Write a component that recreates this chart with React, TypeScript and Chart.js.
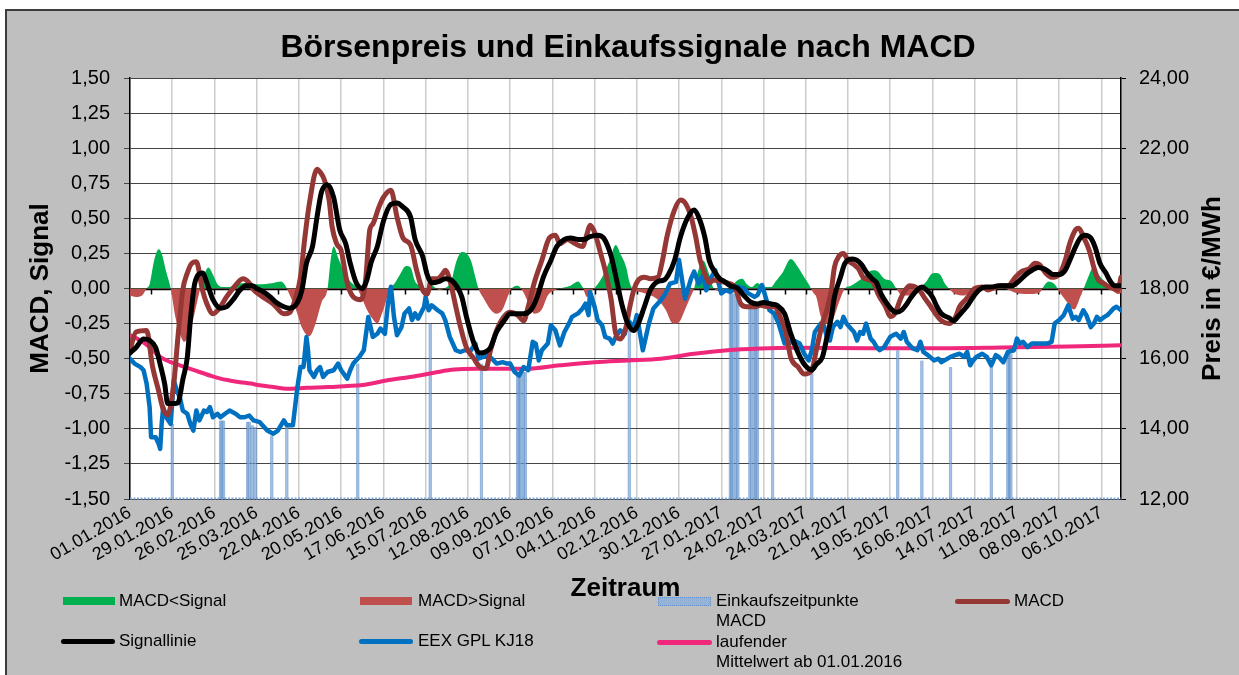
import React, { useEffect, useRef } from 'react';
import { Chart, registerables } from 'chart.js';

Chart.register(...registerables);

// ---------- DATA ----------
const dateLabels = [
  '01.01.2016', '29.01.2016', '26.02.2016', '25.03.2016', '22.04.2016', '20.05.2016',
  '17.06.2016', '15.07.2016', '12.08.2016', '09.09.2016', '07.10.2016', '04.11.2016',
  '02.12.2016', '30.12.2016', '27.01.2017', '24.02.2017', '24.03.2017', '21.04.2017',
  '19.05.2017', '16.06.2017', '14.07.2017', '11.08.2017', '08.09.2017', '06.10.2017',
];
const lastDay = 657; // day index of the last trading date shown (days since 01.01.2016)

const macdDays = [0, 4, 11, 15, 19, 22, 25, 29, 32, 35, 38, 41, 44, 48, 51, 55, 60, 64, 69, 73, 75, 79, 82, 88, 95, 102, 106, 110, 113, 116, 119, 124, 126, 129, 132, 134, 137, 140, 144, 148, 153, 156, 159, 161, 165, 168, 173, 177, 181, 186, 190, 194, 197, 200, 204, 207, 209, 212, 216, 219, 223, 228, 232, 236, 239, 243, 248, 252, 257, 261, 264, 268, 273, 278, 282, 285, 290, 295, 300, 303, 305, 308, 312, 315, 319, 322, 325, 329, 331, 334, 337, 341, 345, 350, 353, 356, 361, 365, 368, 372, 375, 378, 382, 384, 387, 392, 396, 401, 405, 409, 414, 418, 423, 427, 431, 435, 438, 443, 447, 452, 455, 459, 462, 465, 467, 470, 473, 476, 480, 483, 486, 490, 493, 496, 501, 504, 507, 511, 514, 517, 521, 524, 527, 531, 534, 538, 543, 547, 550, 554, 557, 560, 565, 569, 574, 578, 582, 587, 591, 596, 600, 603, 607, 611, 616, 620, 623, 627, 629, 632, 636, 639, 642, 645, 649, 652, 655, 657];
const macdValues = [-0.44, -0.31, -0.30, -0.56, -0.73, -0.86, -0.90, -0.68, -0.32, -0.01, 0.11, 0.18, 0.19, -0.01, -0.11, -0.18, -0.13, -0.06, 0.01, 0.06, 0.07, 0.04, -0.01, -0.06, -0.11, -0.18, -0.17, -0.06, 0.08, 0.37, 0.61, 0.85, 0.83, 0.77, 0.63, 0.44, 0.32, 0.27, 0.04, -0.06, -0.08, 0.04, 0.42, 0.46, 0.58, 0.65, 0.70, 0.51, 0.36, 0.31, 0.13, -0.01, -0.04, 0.07, 0.07, 0.10, 0.13, 0.06, -0.13, -0.27, -0.42, -0.50, -0.56, -0.57, -0.44, -0.30, -0.20, -0.17, -0.19, -0.23, -0.13, 0.04, 0.20, 0.36, 0.38, 0.32, 0.35, 0.32, 0.30, 0.39, 0.45, 0.40, 0.25, 0.13, -0.08, -0.32, -0.36, -0.27, -0.15, -0.01, 0.06, 0.08, 0.07, 0.08, 0.20, 0.37, 0.56, 0.63, 0.61, 0.51, 0.37, 0.20, 0.08, 0.04, 0.06, 0.05, 0.04, 0.01, -0.11, -0.13, -0.13, -0.12, -0.13, -0.13, -0.20, -0.32, -0.49, -0.56, -0.61, -0.58, -0.44, -0.25, -0.15, -0.01, 0.15, 0.23, 0.25, 0.20, 0.17, 0.14, 0.08, 0.06, 0.04, -0.04, -0.13, -0.20, -0.18, -0.07, -0.01, 0.02, 0.01, -0.02, -0.07, -0.13, -0.18, -0.23, -0.25, -0.21, -0.13, -0.08, -0.04, 0.00, 0.01, -0.01, 0.01, 0.02, 0.02, 0.08, 0.12, 0.14, 0.18, 0.17, 0.11, 0.08, 0.10, 0.20, 0.32, 0.42, 0.43, 0.37, 0.27, 0.15, 0.06, 0.04, 0.01, 0.00, -0.01, 0.08];

const signalDays = [0, 4, 9, 13, 17, 20, 23, 25, 30, 32, 35, 38, 40, 43, 48, 51, 55, 60, 64, 69, 73, 77, 81, 84, 88, 93, 97, 102, 106, 111, 114, 117, 121, 124, 127, 131, 135, 139, 143, 146, 150, 154, 157, 160, 164, 168, 173, 177, 181, 186, 189, 194, 197, 200, 205, 209, 213, 217, 220, 223, 228, 232, 236, 239, 243, 248, 252, 257, 261, 266, 270, 274, 279, 283, 288, 292, 297, 301, 305, 310, 314, 319, 323, 326, 330, 334, 337, 341, 345, 350, 354, 357, 361, 365, 370, 374, 377, 381, 384, 387, 391, 394, 398, 403, 407, 412, 416, 420, 425, 429, 434, 438, 443, 447, 452, 455, 459, 462, 465, 467, 471, 474, 479, 482, 485, 488, 492, 495, 498, 502, 505, 508, 512, 515, 518, 522, 525, 528, 532, 535, 538, 543, 546, 549, 553, 556, 559, 563, 567, 571, 576, 580, 585, 589, 594, 598, 602, 606, 609, 612, 616, 620, 623, 627, 630, 633, 637, 640, 643, 647, 650, 653, 657];
const signalValues = [-0.46, -0.42, -0.36, -0.37, -0.42, -0.54, -0.68, -0.82, -0.82, -0.81, -0.65, -0.49, -0.23, 0.04, 0.11, 0.04, -0.08, -0.14, -0.13, -0.07, -0.01, 0.02, 0.02, 0.00, -0.02, -0.06, -0.10, -0.13, -0.14, -0.10, -0.01, 0.18, 0.30, 0.51, 0.69, 0.74, 0.65, 0.42, 0.32, 0.18, 0.04, 0.00, 0.06, 0.19, 0.30, 0.48, 0.60, 0.61, 0.58, 0.51, 0.35, 0.23, 0.10, 0.04, 0.05, 0.07, 0.06, 0.01, -0.06, -0.20, -0.39, -0.46, -0.45, -0.42, -0.31, -0.23, -0.18, -0.18, -0.18, -0.15, -0.06, 0.08, 0.20, 0.30, 0.35, 0.36, 0.35, 0.35, 0.37, 0.38, 0.36, 0.23, 0.04, -0.11, -0.25, -0.30, -0.25, -0.13, -0.01, 0.05, 0.06, 0.10, 0.20, 0.37, 0.51, 0.56, 0.51, 0.37, 0.20, 0.13, 0.07, 0.05, 0.02, 0.00, -0.05, -0.10, -0.11, -0.10, -0.11, -0.12, -0.18, -0.32, -0.46, -0.54, -0.58, -0.54, -0.49, -0.35, -0.20, -0.06, 0.08, 0.18, 0.21, 0.20, 0.17, 0.12, 0.07, 0.04, -0.04, -0.11, -0.15, -0.17, -0.15, -0.11, -0.06, -0.01, 0.01, -0.01, -0.06, -0.13, -0.18, -0.21, -0.23, -0.20, -0.15, -0.11, -0.06, -0.01, 0.01, 0.01, 0.02, 0.02, 0.02, 0.05, 0.10, 0.13, 0.15, 0.14, 0.12, 0.10, 0.10, 0.13, 0.20, 0.30, 0.36, 0.38, 0.36, 0.29, 0.18, 0.11, 0.05, 0.02, 0.02];

const histDays = [0, 4, 8, 11, 13, 16, 19, 21, 24, 27, 30, 33, 36, 40, 44, 47, 50, 52, 55, 58, 62, 66, 70, 78, 85, 95, 100, 103, 106, 110, 114, 119, 123, 127, 131, 133, 135, 138, 142, 146, 150, 153, 157, 161, 164, 167, 170, 172, 175, 179, 183, 186, 189, 192, 196, 200, 205, 210, 213, 216, 220, 223, 226, 229, 231, 235, 239, 243, 247, 250, 253, 257, 261, 264, 268, 273, 277, 282, 292, 297, 300, 303, 306, 310, 314, 318, 322, 325, 329, 331, 333, 336, 340, 350, 355, 360, 364, 368, 372, 374, 376, 380, 384, 387, 392, 398, 403, 406, 409, 412, 416, 420, 425, 428, 433, 438, 443, 447, 450, 453, 455, 458, 462, 466, 470, 474, 478, 485, 490, 493, 496, 500, 503, 505, 508, 512, 518, 522, 525, 528, 531, 534, 537, 540, 543, 547, 553, 558, 562, 570, 580, 587, 595, 603, 606, 609, 613, 616, 620, 626, 630, 633, 636, 638, 642, 646, 649, 652, 655, 657];
const histValues = [-0.05, -0.06, -0.05, 0, 0.03, 0.2, 0.28, 0.25, 0.12, 0, -0.2, -0.32, -0.38, -0.3, -0.12, 0.02, 0.12, 0.15, 0.1, 0.03, 0.01, 0.01, 0.03, 0.04, 0.03, 0.04, 0.05, 0.02, -0.05, -0.15, -0.28, -0.34, -0.25, -0.1, 0, 0.2, 0.3, 0.22, 0.12, 0.05, 0.01, -0.05, -0.15, -0.22, -0.25, -0.18, -0.08, 0, 0.03, 0.1, 0.16, 0.15, 0.05, 0.02, -0.02, 0.02, -0.01, 0.01, 0.05, 0.18, 0.26, 0.25, 0.2, 0.08, 0, -0.08, -0.15, -0.18, -0.15, -0.07, 0, 0.02, -0.03, -0.1, -0.18, -0.15, -0.05, -0.01, 0.02, 0.05, 0.01, -0.06, -0.02, 0.03, 0.1, 0.2, 0.31, 0.25, 0.15, 0.05, 0, -0.02, -0.03, -0.08, -0.15, -0.25, -0.24, -0.15, -0.05, 0, 0.1, 0.2, 0.1, 0, -0.02, 0.01, 0.06, 0.07, 0.03, 0.01, 0.04, 0.01, 0.01, 0.05, 0.12, 0.21, 0.15, 0.08, 0.03, -0.03, -0.06, -0.2, -0.25, -0.22, -0.1, 0, 0.02, 0.07, 0.12, 0.13, 0.12, 0.07, 0.06, 0.05, 0, -0.05, -0.05, 0, 0.02, 0.05, 0.1, 0.11, 0.1, 0.04, 0, -0.04, -0.05, -0.02, 0, 0.01, 0, -0.03, -0.04, -0.03, 0.02, 0.05, 0.03, -0.02, -0.08, -0.15, -0.06, 0.02, 0.1, 0.14, 0.1, 0.05, 0.01, -0.02, -0.04, -0.03];

const priceDays = [0, 3, 7, 9, 11, 13, 14, 17, 19, 20, 21, 22, 24, 27, 29, 31, 33, 35, 38, 40, 42, 44, 46, 49, 51, 53, 55, 58, 60, 63, 66, 70, 73, 76, 79, 82, 86, 91, 95, 98, 102, 104, 108, 111, 113, 115, 117, 118, 119, 122, 124, 126, 128, 131, 135, 138, 140, 144, 146, 148, 152, 155, 158, 161, 164, 166, 169, 171, 173, 175, 177, 180, 182, 185, 187, 189, 191, 195, 196, 198, 200, 204, 207, 209, 212, 216, 219, 222, 226, 229, 231, 234, 237, 240, 243, 247, 250, 252, 255, 258, 261, 264, 267, 269, 271, 273, 277, 279, 282, 285, 288, 291, 293, 297, 300, 302, 304, 305, 308, 310, 313, 315, 318, 320, 322, 325, 328, 330, 332, 334, 336, 340, 342, 344, 347, 352, 355, 358, 362, 364, 366, 368, 372, 374, 377, 380, 382, 385, 388, 392, 395, 398, 403, 407, 410, 414, 416, 419, 422, 424, 427, 430, 434, 437, 440, 444, 447, 450, 452, 454, 458, 460, 462, 464, 466, 469, 471, 473, 475, 477, 480, 482, 484, 486, 488, 491, 493, 495, 497, 500, 502, 504, 506, 508, 511, 513, 515, 517, 519, 522, 524, 526, 529, 533, 536, 538, 540, 544, 547, 550, 553, 555, 557, 559, 561, 565, 568, 571, 574, 576, 579, 582, 586, 588, 590, 592, 595, 598, 601, 605, 608, 611, 613, 616, 619, 622, 625, 627, 629, 632, 634, 637, 639, 641, 643, 646, 648, 650, 652, 654, 657];
const priceValues = [16.00, 15.86, 15.76, 15.67, 15.29, 14.62, 13.76, 13.76, 13.57, 13.43, 14.14, 14.62, 14.33, 14.14, 15.38, 15.10, 14.90, 14.52, 14.43, 14.14, 13.95, 14.52, 14.24, 14.52, 14.48, 14.62, 14.33, 14.43, 14.33, 14.43, 14.52, 14.43, 14.33, 14.33, 14.38, 14.24, 14.19, 13.95, 13.86, 13.95, 14.24, 14.10, 14.10, 15.19, 15.76, 15.76, 16.62, 16.24, 15.67, 15.48, 15.67, 15.76, 15.48, 15.62, 15.67, 15.86, 15.67, 15.43, 15.67, 15.86, 16.05, 16.24, 17.19, 16.62, 16.71, 16.86, 16.71, 17.57, 18.05, 17.19, 16.67, 16.90, 17.29, 17.43, 17.10, 17.29, 17.14, 17.48, 17.76, 17.38, 17.52, 17.38, 17.29, 17.10, 16.62, 16.24, 16.19, 16.24, 16.24, 16.43, 16.00, 16.05, 16.10, 16.00, 15.86, 15.90, 15.86, 15.86, 15.62, 15.52, 15.76, 15.67, 16.48, 16.43, 15.95, 16.24, 16.43, 16.95, 16.81, 16.38, 16.76, 17.00, 17.19, 17.29, 17.43, 17.57, 17.24, 17.90, 17.48, 17.10, 16.95, 16.62, 16.57, 16.43, 16.62, 16.81, 16.71, 17.10, 17.00, 16.90, 17.24, 16.24, 16.62, 17.00, 17.43, 17.67, 17.86, 18.14, 18.19, 18.81, 18.24, 17.71, 18.29, 18.48, 18.14, 18.38, 17.95, 18.29, 18.52, 17.86, 17.95, 17.90, 18.05, 18.00, 17.86, 17.76, 17.81, 18.10, 17.67, 17.38, 17.29, 17.00, 16.43, 16.43, 16.52, 16.43, 16.14, 15.95, 16.24, 16.76, 17.00, 16.95, 16.62, 16.52, 16.90, 17.05, 16.90, 17.19, 17.00, 16.90, 16.76, 16.52, 16.76, 16.71, 17.00, 16.57, 16.48, 16.33, 16.24, 16.33, 16.48, 16.62, 16.67, 16.71, 16.57, 16.76, 16.48, 16.38, 16.29, 16.24, 16.48, 16.19, 16.10, 15.95, 16.00, 15.90, 15.95, 16.05, 16.10, 16.14, 16.05, 16.19, 15.81, 15.95, 16.05, 16.14, 16.05, 15.81, 16.10, 16.05, 15.90, 16.19, 16.24, 16.57, 16.43, 16.48, 16.33, 16.43, 16.43, 16.43, 16.43, 16.48, 17.00, 17.10, 17.24, 17.52, 17.14, 17.19, 17.10, 17.38, 17.24, 16.90, 17.00, 17.19, 17.10, 17.19, 17.24, 17.33, 17.43, 17.48, 17.38];

const meanDays = [0, 7, 13, 20, 27, 33, 40, 46, 53, 60, 66, 73, 80, 86, 95, 104, 117, 131, 144, 153, 161, 170, 181, 192, 204, 215, 230, 263, 285, 308, 330, 352, 374, 396, 418, 440, 490, 534, 578, 622, 657];
const meanValues = [16.67, 16.52, 16.33, 16.05, 15.90, 15.81, 15.71, 15.62, 15.52, 15.43, 15.38, 15.33, 15.29, 15.24, 15.19, 15.14, 15.17, 15.19, 15.22, 15.24, 15.30, 15.38, 15.45, 15.52, 15.62, 15.69, 15.71, 15.71, 15.81, 15.90, 15.95, 16.00, 16.14, 16.24, 16.29, 16.31, 16.30, 16.30, 16.32, 16.35, 16.38];

const buyDays = [28, 60, 61, 62, 78, 79, 81, 83, 94, 104, 151, 199, 233, 257, 258, 259, 261, 262, 331, 398, 399, 400, 402, 403, 411, 412, 414, 415, 416, 426, 452, 509, 525, 544, 571, 582, 583, 584];
const buyPrices = [14.14, 14.24, 14.24, 14.24, 14.2, 14.2, 14.1, 14.05, 13.81, 14.05, 15.86, 17.0, 15.86, 15.62, 15.62, 15.62, 15.62, 15.62, 16.81, 17.86, 17.86, 17.86, 17.86, 17.86, 17.57, 17.57, 17.57, 17.57, 17.57, 17.29, 15.62, 16.24, 15.95, 15.76, 15.76, 16.14, 16.14, 16.14];

// ---------- COMPONENT ----------
const FONT = "'Liberation Sans', Arial, sans-serif";
const RIGHT_TITLE = 'Preis in €/MWh';

const pts = (days: number[], vals: number[]) => days.map((d, i) => ({ x: d, y: vals[i] }));
const fmt = (v: number | string) => Number(v).toFixed(2).replace('.', ',');

export default function App() {
  const ref = useRef<HTMLCanvasElement>(null);

  useEffect(() => {
    Chart.defaults.font.family = FONT;
    Chart.defaults.color = '#000';

    const bgPlugin = {
      id: 'plotBg',
      beforeDraw(chart: any) {
        const { ctx, chartArea } = chart;
        ctx.save();
        ctx.fillStyle = '#ffffff';
        ctx.fillRect(chartArea.left, chartArea.top, chartArea.right - chartArea.left, chartArea.bottom - chartArea.top);
        ctx.restore();
      },
      afterDraw(chart: any) {
        // right axis title, reading bottom-to-top like the reference
        const { ctx, scales } = chart;
        const s = scales.y2;
        ctx.save();
        ctx.translate(1213, (s.top + s.bottom) / 2);
        ctx.rotate(-Math.PI / 2);
        ctx.font = `bold 26px ${FONT}`;
        ctx.fillStyle = '#000';
        ctx.textAlign = 'center';
        ctx.textBaseline = 'middle';
        ctx.fillText(RIGHT_TITLE, 0, 0);
        ctx.restore();
      },
    };
    const zeroAxisPlugin = {
      id: 'zeroAxis',
      beforeDatasetsDraw(chart: any) {
        const { ctx, chartArea, scales } = chart;
        // dotted base line of the purchase-point bars
        ctx.save();
        ctx.strokeStyle = '#7fa9dc';
        ctx.lineWidth = 2;
        ctx.setLineDash([2, 1.5]);
        ctx.beginPath();
        ctx.moveTo(chartArea.left, chartArea.bottom - 0.5);
        ctx.lineTo(chartArea.right, chartArea.bottom - 0.5);
        ctx.stroke();
        ctx.restore();
        // category axis crossing at 0
        const y0 = Math.round(scales.y.getPixelForValue(0)) + 0.5;
        ctx.save();
        ctx.strokeStyle = '#000';
        ctx.lineWidth = 1.5;
        ctx.beginPath();
        ctx.moveTo(chartArea.left, y0);
        ctx.lineTo(chartArea.right, y0);
        for (let d = 0; d <= scales.x.max; d += 14) {
          const px = Math.round(scales.x.getPixelForValue(d)) + 0.5;
          ctx.moveTo(px, y0);
          ctx.lineTo(px, y0 + 5);
        }
        ctx.stroke();
        ctx.restore();
      },
    };

    const hist = pts(histDays, histValues);

    const chart = new Chart(ref.current as HTMLCanvasElement, {
      type: 'line',
      data: {
        datasets: [
          {
            type: 'bar',
            label: 'Einkaufszeitpunkte MACD',
            data: pts(buyDays, buyPrices),
            yAxisID: 'y2',
            backgroundColor: 'rgba(141,180,226,0.6)',
            borderColor: 'rgba(79,129,189,0.55)',
            borderWidth: { left: 1, right: 1, top: 0, bottom: 0 },
            borderSkipped: false,
            barThickness: 3,
            order: 7,
          } as any,
          {
            label: 'MACD<Signal',
            data: hist,
            yAxisID: 'y',
            borderWidth: 0,
            pointRadius: 0,
            cubicInterpolationMode: 'monotone',
            fill: { target: 'origin', above: '#00b050', below: 'rgba(0,0,0,0)' },
            order: 6,
          },
          {
            label: 'MACD>Signal',
            data: hist,
            yAxisID: 'y',
            borderWidth: 0,
            pointRadius: 0,
            cubicInterpolationMode: 'monotone',
            fill: { target: 'origin', above: 'rgba(0,0,0,0)', below: '#c0504d' },
            order: 5,
          },
          {
            label: 'laufender Mittelwert ab 01.01.2016',
            data: pts(meanDays, meanValues),
            yAxisID: 'y2',
            borderColor: '#f0287c',
            borderWidth: 4,
            pointRadius: 0,
            cubicInterpolationMode: 'monotone',
            fill: false,
            order: 4,
          },
          {
            label: 'EEX GPL KJ18',
            data: pts(priceDays, priceValues),
            yAxisID: 'y2',
            borderColor: '#0070c0',
            borderWidth: 4.5,
            pointRadius: 0,
            tension: 0,
            borderJoinStyle: 'round',
            borderCapStyle: 'round',
            fill: false,
            order: 3,
          },
          {
            label: 'MACD',
            data: pts(macdDays, macdValues),
            yAxisID: 'y',
            borderColor: '#953735',
            borderWidth: 5,
            pointRadius: 0,
            cubicInterpolationMode: 'monotone',
            borderJoinStyle: 'round',
            borderCapStyle: 'round',
            fill: false,
            order: 2,
          },
          {
            label: 'Signallinie',
            data: pts(signalDays, signalValues),
            yAxisID: 'y',
            borderColor: '#000000',
            borderWidth: 5,
            pointRadius: 0,
            cubicInterpolationMode: 'monotone',
            borderJoinStyle: 'round',
            borderCapStyle: 'round',
            fill: false,
            order: 1,
          },
        ],
      },
      options: {
        responsive: false,
        animation: false,
        events: [],
        layout: { padding: { left: 17, right: 0, top: 0, bottom: 71 } },
        plugins: {
          legend: { display: false },
          tooltip: { enabled: false },
          title: {
            display: true,
            text: 'Börsenpreis und Einkaufssignale nach MACD',
            color: '#000',
            font: { size: 32, weight: 'bold', family: FONT },
            padding: { top: 28.8, bottom: 10.8 },
          },
        },
        scales: {
          x: {
            type: 'linear',
            min: 0,
            max: lastDay,
            offset: false,
            afterFit: (s: any) => { s.height = 105; },
            ticks: {
              stepSize: 28,
              autoSkip: false,
              includeBounds: false,
              minRotation: 30,
              maxRotation: 30,
              padding: 3,
              color: '#000',
              font: { size: 18, family: FONT },
              callback: (v: any) => {
                const n = Number(v);
                return n % 28 === 0 ? (dateLabels[n / 28] ?? '') : '';
              },
            },
            grid: { color: '#cccccc', lineWidth: 1.5, drawTicks: false, offset: false },
            border: { display: false },
            title: {
              display: true,
              text: 'Zeitraum',
              color: '#000',
              font: { size: 26, weight: 'bold', family: FONT },
              padding: { top: 0, bottom: 0 },
            },
          },
          y: {
            type: 'linear',
            position: 'left',
            min: -1.5,
            max: 1.5,
            afterFit: (s: any) => { s.width = 113; },
            ticks: {
              stepSize: 0.25,
              padding: 14,
              color: '#000',
              font: { size: 20, family: FONT },
              callback: (v: any) => fmt(v),
            },
            grid: { color: '#444444', lineWidth: 1, tickLength: 6 },
            border: { color: '#000', width: 1.5 },
            title: {
              display: true,
              text: 'MACD, Signal',
              color: '#000',
              font: { size: 26, weight: 'bold', family: FONT },
              padding: { top: 8, bottom: 0 },
            },
          },
          y2: {
            type: 'linear',
            position: 'right',
            min: 12,
            max: 24,
            afterFit: (s: any) => { s.width = 118; },
            ticks: {
              stepSize: 2,
              padding: 13,
              color: '#000',
              font: { size: 20, family: FONT },
              callback: (v: any) => fmt(v),
            },
            grid: { drawOnChartArea: false, color: '#000', tickLength: 5 },
            border: { color: '#000', width: 1.5 },
            title: { display: false, text: RIGHT_TITLE },
          },
        },
      } as any,
      plugins: [bgPlugin, zeroAxisPlugin],
    });
    return () => chart.destroy();
  }, []);

  const text: React.CSSProperties = {
    position: 'absolute',
    fontFamily: FONT,
    fontSize: 17,
    lineHeight: '20px',
    color: '#000',
    whiteSpace: 'nowrap',
  };
  const line = (left: number, top: number, width: number, color: string): React.CSSProperties => ({
    position: 'absolute', left, top, width, height: 5, borderRadius: 3, background: color,
  });

  return (
    <div style={{ position: 'fixed', left: 0, top: 0, width: 1239, height: 675, background: '#fff', overflow: 'hidden' }}>
      <div style={{ position: 'absolute', left: 5, top: 9, width: 1250, height: 680, background: '#bfbfbf', borderLeft: '2px solid #3c3c3c', borderTop: '2px solid #3c3c3c' }} />
      <canvas ref={ref} width={1239} height={675} style={{ position: 'absolute', left: 0, top: 0 }} />
      {/* legend */}
      <div style={{ position: 'absolute', left: 63, top: 597, width: 52, height: 8, background: '#00b050' }} />
      <div style={{ ...text, left: 119, top: 591 }}>MACD&lt;Signal</div>
      <div style={{ position: 'absolute', left: 360, top: 597, width: 52, height: 8, background: '#c0504d' }} />
      <div style={{ ...text, left: 418, top: 591 }}>MACD&gt;Signal</div>
      <div style={{ position: 'absolute', left: 658, top: 597, width: 51, height: 7, background: '#95b3d7', border: '1px dotted #5b8fd0' }} />
      <div style={{ ...text, left: 716, top: 591 }}>Einkaufszeitpunkte<br />MACD</div>
      <div style={line(955, 599, 55, '#953735')} />
      <div style={{ ...text, left: 1014, top: 591 }}>MACD</div>
      <div style={line(61, 639, 54, '#000')} />
      <div style={{ ...text, left: 119, top: 631 }}>Signallinie</div>
      <div style={line(359, 639, 54, '#0070c0')} />
      <div style={{ ...text, left: 418, top: 631 }}>EEX GPL KJ18</div>
      <div style={line(657, 640, 55, '#f0287c')} />
      <div style={{ ...text, left: 716, top: 632 }}>laufender<br />Mittelwert ab 01.01.2016</div>
    </div>
  );
}
